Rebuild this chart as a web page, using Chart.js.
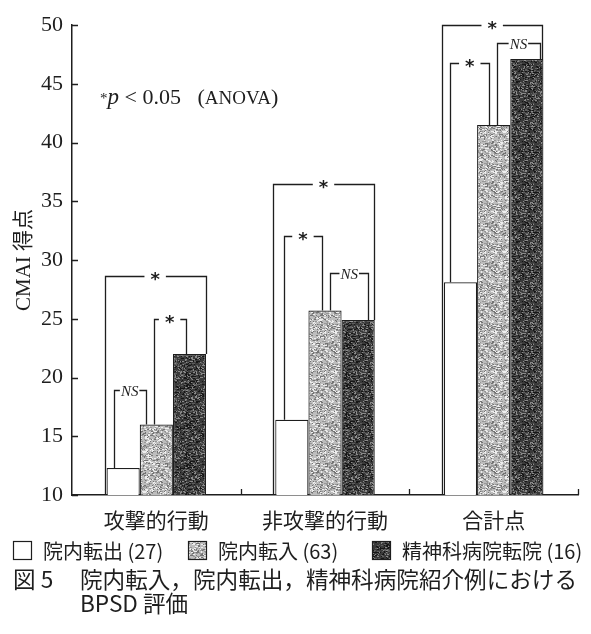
<!DOCTYPE html>
<html>
<head>
<meta charset="utf-8">
<script src="https://cdn.jsdelivr.net/npm/chart.js@4.4.1/dist/chart.umd.min.js"></script>
<style>
  html, body { margin: 0; padding: 0; background: #fff; }
  #wrap { width: 591px; height: 634px; }
</style>
</head>
<body>
<div id="wrap"><canvas id="c" width="591" height="634"></canvas></div>
<script>
// ---- data ----
const categories = ['攻撃的行動', '非攻撃的行動', '合計点'];
const seriesNames = ['院内転出 (27)', '院内転入 (63)', '精神科病院転院 (16)'];
const transferOut = [12.3, 16.4, 28.1];   // 院内転出
const transferIn = [16.0, 25.7, 41.5];    // 院内転入
const psychiatric = [22.0, 24.9, 47.1];   // 精神科病院転院
const yTicks = [10, 15, 20, 25, 30, 35, 40, 45, 50];

// significance brackets: category, first bar, last bar, bracket height (score), label
const bracketGroup = [0, 0, 0, 1, 1, 1, 2, 2, 2];
const bracketFrom  = [0, 1, 0, 0, 0, 1, 0, 0, 1];
const bracketTo    = [1, 2, 2, 2, 1, 2, 2, 1, 2];
const bracketTop   = [18.9, 25.0, 28.6, 36.5, 32.0, 28.9, 50.0, 46.8, 48.5];
const bracketLabel = ['NS', '*', '*', '*', '*', 'NS', '*', '*', 'NS'];

const captionNo = '図 5';
const captionLines = ['院内転入，院内転出，精神科病院紹介例における', 'BPSD 評価'];

// ---- styling ----
// where each bracket leg meets its bar, as a fraction of bar width (negative = runs down to the axis)
const legFromFrac = [0.21, 0.42, -0.06, -0.06, 0.25, 0.66, -0.06, 0.19, 0.59];
const legToFrac   = [0.18, 0.38, 0.99, 0.97, 0.42, 0.80, 0.97, 0.37, 0.90];
const INK = '#1e1e1e';

// printed stipple texture for the shaded bars
function stipple(base, specks, seed) {
  const size = 40;
  const c = document.createElement('canvas');
  c.width = c.height = size;
  const g = c.getContext('2d');
  g.fillStyle = base;
  g.fillRect(0, 0, size, size);
  let s = seed;
  const next = () => { s = (s * 1103515245 + 12345) % 2147483648; return s / 2147483648; };
  specks.forEach(([col, n]) => {
    g.fillStyle = col;
    for (let i = 0; i < n; i++) {
      const x = Math.floor(next() * size), y = Math.floor(next() * size);
      g.fillRect(x, y, next() < 0.5 ? 1 : 2, 1);
    }
  });
  return g.createPattern(c, 'repeat');
}
const ctx0 = document.getElementById('c').getContext('2d');
const grayFill = stipple('#bdbdbd', [['#747474', 280], ['#eeeeee', 280], ['#989898', 180]], 7);
const darkFill = stipple('#3a3a3a', [['#8a8a8a', 260], ['#161616', 260], ['#5e5e5e', 200]], 11);

const chartDecor = {
  id: 'chartDecor',
  afterDraw(chart) {
    const ctx = chart.ctx;
    const xs = chart.scales.x, ys = chart.scales.y;
    const area = chart.chartArea;
    ctx.save();
    ctx.strokeStyle = INK;
    ctx.fillStyle = INK;
    ctx.lineWidth = 1.3;

    // inward tick marks on the y axis
    ctx.beginPath();
    yTicks.forEach(v => {
      const y = Math.round(ys.getPixelForValue(v)) + 0.5;
      ctx.moveTo(area.left, y);
      ctx.lineTo(area.left + 6, y);
    });
    // inward tick marks at category boundaries on the x axis
    const bounds = [];
    for (let i = 0; i < categories.length - 1; i++) {
      bounds.push((xs.getPixelForValue(i) + xs.getPixelForValue(i + 1)) / 2);
    }
    bounds.push(area.right);
    bounds.forEach(x => {
      ctx.moveTo(Math.round(x) + 0.5, area.bottom);
      ctx.lineTo(Math.round(x) + 0.5, area.bottom - 6);
    });
    ctx.stroke();

    // significance brackets
    const barAt = (ds, idx) => chart.getDatasetMeta(ds).data[idx].getProps(['x', 'y', 'width'], true);
    for (let k = 0; k < bracketTop.length; k++) {
      const g = bracketGroup[k];
      const a = barAt(bracketFrom[k], g), b = barAt(bracketTo[k], g);
      const lx = a.x - a.width / 2 + legFromFrac[k] * a.width;
      const rx = b.x - b.width / 2 + legToFrac[k] * b.width;
      const lb = legFromFrac[k] < 0 ? area.bottom : a.y;
      const rb = legToFrac[k] < 0 ? area.bottom : b.y;
      const ty = Math.round(ys.getPixelForValue(bracketTop[k])) + 0.5;
      const cx = (lx + rx) / 2;
      const isNS = bracketLabel[k] === 'NS';
      ctx.font = isNS ? 'italic 15px "Liberation Serif"' : 'bold 18px "DejaVu Sans"';
      const m = ctx.measureText(bracketLabel[k]);
      const gap = m.width / 2 + (isNS ? 1 : 6);
      ctx.beginPath();
      ctx.moveTo(Math.round(lx) + 0.5, lb);
      ctx.lineTo(Math.round(lx) + 0.5, ty);
      ctx.lineTo(cx - gap, ty);
      ctx.moveTo(cx + gap, ty);
      ctx.lineTo(Math.round(rx) + 0.5, ty);
      ctx.lineTo(Math.round(rx) + 0.5, rb);
      ctx.stroke();
      ctx.textAlign = 'center';
      ctx.textBaseline = 'alphabetic';
      const asc = m.actualBoundingBoxAscent, desc = m.actualBoundingBoxDescent;
      ctx.fillText(bracketLabel[k], cx, ty + (asc - desc) / 2);
    }

    // significance note
    ctx.textAlign = 'left';
    ctx.textBaseline = 'alphabetic';
    let x = 100;
    const base = 104;
    const part = (txt, font, dy = 0) => {
      ctx.font = font;
      ctx.fillText(txt, x, base + dy);
      x += ctx.measureText(txt).width;
    };
    part('*', '15px "Liberation Serif"', -1);
    part('p', 'italic 23px "Liberation Serif"');
    part(' < 0.05   (', '22px "Liberation Serif"');
    part('ANOVA', '19px "Liberation Serif"');
    part(')', '22px "Liberation Serif"');

    // legend
    const legendX = [13, 188, 372];
    const fills = chart.data.datasets.map(d => d.backgroundColor);
    ctx.font = '20px "Noto Sans CJK JP"';
    ctx.textBaseline = 'middle';
    chart.data.datasets.forEach((d, i) => {
      ctx.fillStyle = fills[i];
      ctx.fillRect(legendX[i], 541, 18, 18);
      ctx.lineWidth = 1.2;
      ctx.strokeStyle = INK;
      ctx.strokeRect(legendX[i] + 0.5, 541.5, 18, 18);
      ctx.fillStyle = INK;
      ctx.fillText(d.label, legendX[i] + 30, 551);
    });

    // figure caption
    ctx.font = '22.6px "Noto Sans CJK JP"';
    ctx.fillText(captionNo, 13, 579);
    ctx.fillText(captionLines[0], 80, 579);
    ctx.fillText(captionLines[1], 80, 603);
    ctx.restore();
  }
};

new Chart(ctx0, {
  type: 'bar',
  data: {
    labels: categories,
    datasets: [
      { label: seriesNames[0], data: transferOut, backgroundColor: '#ffffff' },
      { label: seriesNames[1], data: transferIn, backgroundColor: grayFill },
      { label: seriesNames[2], data: psychiatric, backgroundColor: darkFill }
    ]
  },
  options: {
    responsive: false,
    animation: false,
    devicePixelRatio: 1,
    layout: { padding: { top: 25, right: 13, left: 0, bottom: 0 } },
    datasets: {
      bar: { categoryPercentage: 0.59, barPercentage: 1.0, borderColor: INK, borderWidth: 1.2 }
    },
    plugins: { legend: { display: false }, tooltip: { enabled: false } },
    scales: {
      x: {
        grid: { display: false, drawTicks: false },
        border: { display: true, color: INK, width: 1.5 },
        ticks: { padding: 12, color: INK, font: { family: '"Noto Sans CJK JP"', size: 21 } },
        afterFit(s) { s.height = 139; }
      },
      y: {
        min: 10,
        max: 50,
        afterBuildTicks(s) { s.ticks = yTicks.map(v => ({ value: v })); },
        grid: { display: false, drawTicks: false },
        border: { display: true, color: INK, width: 1.5 },
        ticks: { padding: 9, color: INK, font: { family: '"Liberation Serif"', size: 22 } },
        title: {
          display: true,
          text: 'CMAI 得点',
          color: INK,
          font: { family: '"Liberation Serif", "Noto Sans CJK JP"', size: 21 },
          padding: { top: 12, bottom: 0 }
        },
        afterFit(s) { s.width = 72; }
      }
    }
  },
  plugins: [chartDecor]
});
</script>
</body>
</html>
